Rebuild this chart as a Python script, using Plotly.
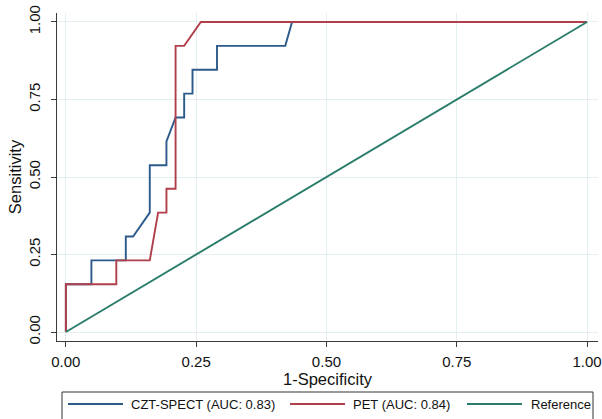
import plotly.graph_objects as go

# ROC coordinates (1-specificity, sensitivity)
spect_fpr = [0.0, 0.0, 0.049, 0.049, 0.115, 0.115, 0.129, 0.161, 0.161, 0.193, 0.193,
             0.2105, 0.227, 0.227, 0.243, 0.243, 0.290, 0.290, 0.421, 0.434, 1.0]
spect_tpr = [0.0, 0.154, 0.154, 0.231, 0.231, 0.308, 0.308, 0.385, 0.538, 0.538, 0.615,
             0.692, 0.692, 0.769, 0.769, 0.846, 0.846, 0.923, 0.923, 1.0, 1.0]

pet_fpr = [0.0, 0.0, 0.0968, 0.0968, 0.161, 0.177, 0.193, 0.193, 0.2105, 0.2105,
           0.227, 0.259, 1.0]
pet_tpr = [0.0, 0.154, 0.154, 0.231, 0.231, 0.385, 0.385, 0.462, 0.462, 0.923,
           0.923, 1.0, 1.0]

ref_x = [0.0, 1.0]
ref_y = [0.0, 1.0]

names = ["CZT-SPECT (AUC: 0.83)", "PET (AUC: 0.84)", "Reference"]
colors = ["#2c5a8a", "#b03f4b", "#2a7d6b"]

tick_vals = [0, 0.25, 0.5, 0.75, 1.0]
tick_text = ["0.00", "0.25", "0.50", "0.75", "1.00"]

FONT = "Liberation Sans, Arial, sans-serif"

# figure / plot-area geometry in pixels
W, H = 602, 419
ML, MR, MT, MB = 57, 4, 13, 78
PW, PH = W - ML - MR, H - MT - MB


def px_x(p):
    return (p - ML) / PW


def px_y(p):
    return (H - MB - p) / PH


fig = go.Figure()
for xs, ys, nm, c in [(spect_fpr, spect_tpr, names[0], colors[0]),
                      (pet_fpr, pet_tpr, names[1], colors[1]),
                      (ref_x, ref_y, names[2], colors[2])]:
    fig.add_trace(go.Scatter(x=xs, y=ys, mode="lines", name=nm,
                             line=dict(color=c, width=1.9), showlegend=False))

axis_common = dict(
    tickvals=tick_vals, ticktext=tick_text, automargin=False,
    showgrid=True, gridcolor="#e4eff2", gridwidth=1,
    zeroline=False, showline=True, linecolor="#3a3a3a", linewidth=1.3,
    ticks="outside", ticklen=5, tickcolor="#3a3a3a", tickwidth=1.3,
    tickfont=dict(family=FONT, size=15, color="#111"),
)

fig.update_xaxes(range=[-0.017, 1.021], ticklabelstandoff=2,
                 title=dict(text="1-Specificity", standoff=4,
                            font=dict(family=FONT, size=16.5, color="#111")),
                 **axis_common)
fig.update_yaxes(range=[-0.029, 1.029], tickangle=-90, ticklabelstandoff=5,
                 title=dict(text="Sensitivity", standoff=0,
                            font=dict(family=FONT, size=16.5, color="#111")),
                 **axis_common)

# legend box along the bottom, with a line sample and label per series
shapes = [dict(type="rect", xref="paper", yref="paper",
               x0=px_x(62), x1=px_x(593), y0=px_y(392), y1=px_y(430),
               line=dict(color="#333", width=1), fillcolor="white", layer="above")]
annotations = []
legend_line_x = [(68, 123), (290, 345), (467, 522)]
legend_text_x = [129, 351, 529]
leg_y = 404
for (a, b), tx, nm, c in zip(legend_line_x, legend_text_x, names, colors):
    shapes.append(dict(type="line", xref="paper", yref="paper",
                       x0=px_x(a), x1=px_x(b), y0=px_y(leg_y), y1=px_y(leg_y),
                       line=dict(color=c, width=1.9), layer="above"))
    annotations.append(dict(xref="paper", yref="paper", x=px_x(tx), y=px_y(leg_y),
                            xanchor="left", yanchor="middle", showarrow=False,
                            text=nm, font=dict(family=FONT, size=13, color="#111")))

fig.update_layout(
    width=W, height=H,
    margin=dict(l=ML, r=MR, t=MT, b=MB),
    paper_bgcolor="white", plot_bgcolor="white",
    font=dict(family=FONT, size=14, color="#111"),
    showlegend=False,
    shapes=shapes, annotations=annotations,
)

fig.write_html("out.html")
